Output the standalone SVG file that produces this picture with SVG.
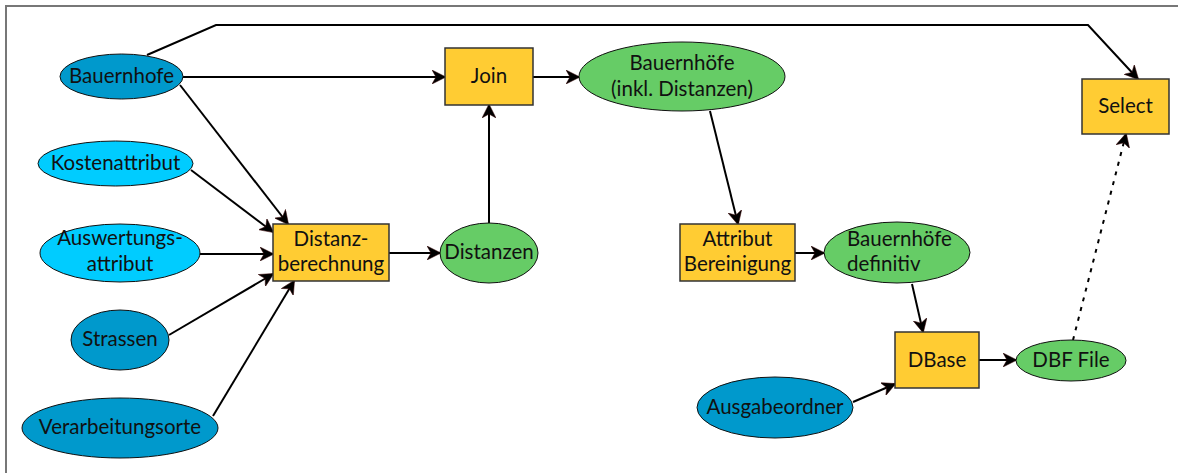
<svg xmlns="http://www.w3.org/2000/svg" width="1187" height="473" viewBox="0 0 1187 473">
  <style>
    .lbl { font-family: Lato, "Liberation Sans", sans-serif; font-size: 20.5px; fill: #111; text-anchor: middle; }
    .lft { text-anchor: start; }
    .src { fill: #0099cc; stroke: #111; stroke-width: 1; }
    .par { fill: #00ccff; stroke: #111; stroke-width: 1; }
    .out { fill: #66cc66; stroke: #111; stroke-width: 1; }
    .tool { fill: #ffcc33; stroke: #333; stroke-width: 1.5; }
    .edge { fill: none; stroke: #000; stroke-width: 2; marker-end: url(#arrow); }
    .dot { stroke-dasharray: 4 6; }
    .frame { fill: none; stroke: #777; stroke-width: 2; }
  </style>
  <defs>
    <marker id="arrow" markerUnits="userSpaceOnUse" viewBox="0 0 14 14" markerWidth="14" markerHeight="14" refX="13" refY="7" orient="auto">
      <path d="M0,0 L14,7 L0,14 L4,7 z" fill="#000" stroke="#300" stroke-width="0.5"/>
    </marker>
  </defs>

  <rect width="1187" height="473" fill="#fff"/>
  <path class="frame" d="M6,473 V6 H1178"/>

  <g id="connectors">
    <path class="edge" d="M147,55 L216,25 H1088 L1138,79"/>
    <path class="edge" d="M183,77 H445"/>
    <path class="edge" d="M180,85 L288,224"/>
    <path class="edge" d="M191,170 L273,232"/>
    <path class="edge" d="M200,254 H273"/>
    <path class="edge" d="M169,335 L273,274"/>
    <path class="edge" d="M213,416 L294,281"/>
    <path class="edge" d="M389,253 H440"/>
    <path class="edge" d="M489,223 V105"/>
    <path class="edge" d="M533,77 H579"/>
    <path class="edge" d="M710,111 L738,224"/>
    <path class="edge" d="M795,253 H824"/>
    <path class="edge" d="M912,284 L923,332"/>
    <path class="edge" d="M853,402 L895,384"/>
    <path class="edge" d="M979,360 H1016"/>
    <path class="edge dot" d="M1073,340 L1126,134"/>
  </g>

  <g id="bauernhofe">
    <ellipse class="src" cx="121.5" cy="76.5" rx="61.5" ry="22.5"/>
    <text class="lbl" x="121.5" y="83">Bauernhofe</text>
  </g>
  <g id="kostenattribut">
    <ellipse class="par" cx="115.5" cy="163.5" rx="77.5" ry="22.5"/>
    <text class="lbl" x="115.5" y="170">Kostenattribut</text>
  </g>
  <g id="auswertungsattribut">
    <ellipse class="par" cx="120" cy="253" rx="80" ry="29"/>
    <text class="lbl" x="120" y="245">Auswertungs-</text>
    <text class="lbl" x="120" y="270.5">attribut</text>
  </g>
  <g id="strassen">
    <ellipse class="src" cx="120" cy="340" rx="49" ry="30"/>
    <text class="lbl" x="120" y="346">Strassen</text>
  </g>
  <g id="verarbeitungsorte">
    <ellipse class="src" cx="120" cy="428" rx="98" ry="30"/>
    <text class="lbl" x="120" y="434">Verarbeitungsorte</text>
  </g>
  <g id="distanzberechnung">
    <rect class="tool" x="273" y="224" width="116" height="57"/>
    <text class="lbl" x="331" y="246">Distanz-</text>
    <text class="lbl" x="331" y="270.5">berechnung</text>
  </g>
  <g id="distanzen">
    <ellipse class="out" cx="489" cy="253" rx="49" ry="30"/>
    <text class="lbl" x="489" y="259">Distanzen</text>
  </g>
  <g id="join">
    <rect class="tool" x="445" y="48" width="88" height="57"/>
    <text class="lbl" x="489" y="83">Join</text>
  </g>
  <g id="bauernhoefe-inkl">
    <ellipse class="out" cx="682" cy="76.5" rx="103" ry="34.5"/>
    <text class="lbl" x="682" y="69.5">Bauernhöfe</text>
    <text class="lbl" x="682" y="96">(inkl. Distanzen)</text>
  </g>
  <g id="attribut-bereinigung">
    <rect class="tool" x="680" y="224" width="115" height="57"/>
    <text class="lbl" x="737.5" y="246">Attribut</text>
    <text class="lbl" x="737.5" y="271">Bereinigung</text>
  </g>
  <g id="bauernhoefe-definitiv">
    <ellipse class="out" cx="897" cy="252.5" rx="73" ry="30.5"/>
    <text class="lbl lft" x="847" y="246">Bauernhöfe</text>
    <text class="lbl lft" x="847" y="271">definitiv</text>
  </g>
  <g id="dbase">
    <rect class="tool" x="895" y="332" width="84" height="56"/>
    <text class="lbl" x="937" y="367">DBase</text>
  </g>
  <g id="dbf-file">
    <ellipse class="out" cx="1071" cy="360.5" rx="55" ry="20.5"/>
    <text class="lbl" x="1071" y="367">DBF File</text>
  </g>
  <g id="ausgabeordner">
    <ellipse class="src" cx="775" cy="407.5" rx="78" ry="30.5"/>
    <text class="lbl" x="775" y="413.5">Ausgabeordner</text>
  </g>
  <g id="select">
    <rect class="tool" x="1082" y="79" width="87" height="55"/>
    <text class="lbl" x="1125.5" y="113">Select</text>
  </g>
</svg>
